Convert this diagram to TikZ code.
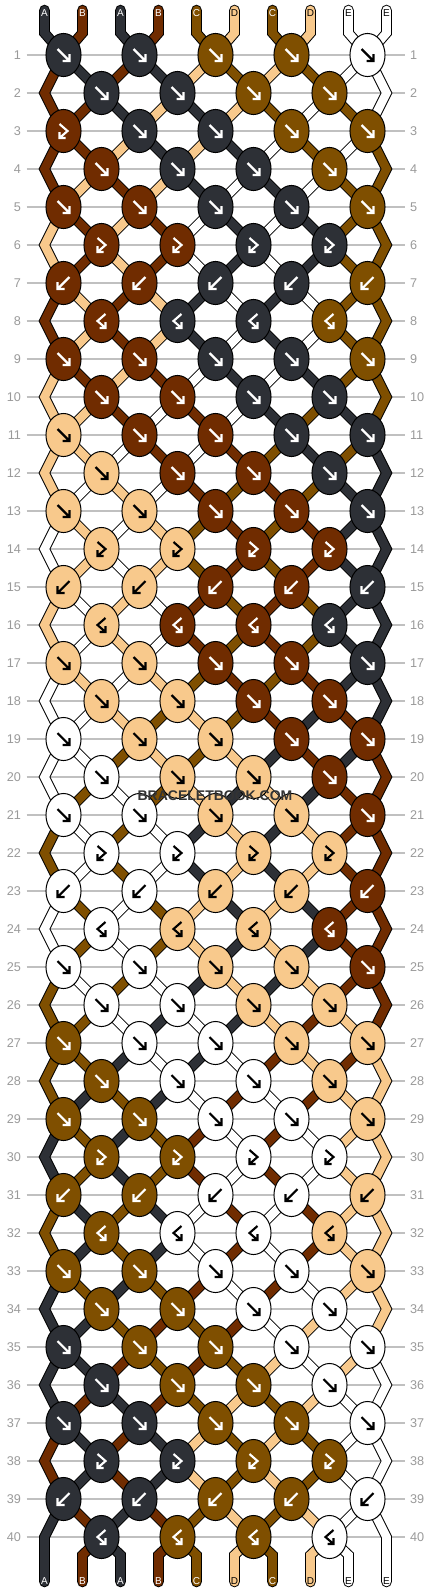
\documentclass[tikz,border=0pt]{standalone}
\usepackage{fontspec}
\setmainfont{Liberation Sans}
\usetikzlibrary{shapes.geometric,backgrounds}

\definecolor{str1}{HTML}{2D3036}
\definecolor{str2}{HTML}{702C00}
\definecolor{str3}{HTML}{7F4F00}
\definecolor{str4}{HTML}{F8C98C}
\definecolor{str5}{HTML}{FFFFFF}
\colorlet{ink1}{white}
\colorlet{ink2}{white}
\colorlet{ink3}{white}
\colorlet{ink4}{black}
\colorlet{ink5}{black}
\definecolor{gridgray}{HTML}{C0C0C0}
\definecolor{numgray}{HTML}{9A9A9A}
\definecolor{markgray}{HTML}{333333}

\tikzset{
  knot/.style={ellipse,draw=black,line width=0.75pt,minimum width=26.3pt,minimum height=32.3pt,inner sep=0pt},
  thread/.style={double=#1,double distance=6.4pt,line width=0.75pt},
  tube/.style={thread=#1,line cap=round},
  glyph/.style={draw=#1,line width=1.6pt},
  rownum/.style={text=numgray,inner sep=4pt,font=\fontsize{9.5}{11}\selectfont},
  rowline/.style={draw=gridgray,line width=0.9pt},
  endlabel/.style={inner sep=0pt,font=\fontsize{7.5}{9}\selectfont},
  watermark/.style={text=markgray,inner sep=0pt,font=\bfseries\fontsize{10.5}{12}\selectfont}
}

% row / threads before the row (1=A ... 5=E) / knots (0 f, 1 b, 2 fb, 3 bf)
\def\rows{%
1/{1,2,1,2,3,4,3,4,5,5}/{0,0,0,0,0},
2/{2,1,2,1,4,3,4,3,5,5}/{0,0,0,0},
3/{2,2,1,4,1,4,3,5,3,5}/{2,0,0,0,0},
4/{2,2,4,1,4,1,5,3,5,3}/{0,0,0,0},
5/{2,4,2,4,1,5,1,5,3,3}/{0,0,0,0,0},
6/{4,2,4,2,5,1,5,1,3,3}/{2,2,2,2},
7/{4,2,4,2,5,1,5,1,3,3}/{1,1,1,1,1},
8/{2,4,2,4,1,5,1,5,3,3}/{3,3,3,3},
9/{2,4,2,4,1,5,1,5,3,3}/{0,0,0,0,0},
10/{4,2,4,2,5,1,5,1,3,3}/{0,0,0,0},
11/{4,4,2,5,2,5,1,3,1,3}/{0,0,0,0,0},
12/{4,4,5,2,5,2,3,1,3,1}/{0,0,0,0},
13/{4,5,4,5,2,3,2,3,1,1}/{0,0,0,0,0},
14/{5,4,5,4,3,2,3,2,1,1}/{2,2,2,2},
15/{5,4,5,4,3,2,3,2,1,1}/{1,1,1,1,1},
16/{4,5,4,5,2,3,2,3,1,1}/{3,3,3,3},
17/{4,5,4,5,2,3,2,3,1,1}/{0,0,0,0,0},
18/{5,4,5,4,3,2,3,2,1,1}/{0,0,0,0},
19/{5,5,4,3,4,3,2,1,2,1}/{0,0,0,0,0},
20/{5,5,3,4,3,4,1,2,1,2}/{0,0,0,0},
21/{5,3,5,3,4,1,4,1,2,2}/{0,0,0,0,0},
22/{3,5,3,5,1,4,1,4,2,2}/{2,2,2,2},
23/{3,5,3,5,1,4,1,4,2,2}/{1,1,1,1,1},
24/{5,3,5,3,4,1,4,1,2,2}/{3,3,3,3},
25/{5,3,5,3,4,1,4,1,2,2}/{0,0,0,0,0},
26/{3,5,3,5,1,4,1,4,2,2}/{0,0,0,0},
27/{3,3,5,1,5,1,4,2,4,2}/{0,0,0,0,0},
28/{3,3,1,5,1,5,2,4,2,4}/{0,0,0,0},
29/{3,1,3,1,5,2,5,2,4,4}/{0,0,0,0,0},
30/{1,3,1,3,2,5,2,5,4,4}/{2,2,2,2},
31/{1,3,1,3,2,5,2,5,4,4}/{1,1,1,1,1},
32/{3,1,3,1,5,2,5,2,4,4}/{3,3,3,3},
33/{3,1,3,1,5,2,5,2,4,4}/{0,0,0,0,0},
34/{1,3,1,3,2,5,2,5,4,4}/{0,0,0,0},
35/{1,1,3,2,3,2,5,4,5,4}/{0,0,0,0,0},
36/{1,1,2,3,2,3,4,5,4,5}/{0,0,0,0},
37/{1,2,1,2,3,4,3,4,5,5}/{0,0,0,0,0},
38/{2,1,2,1,4,3,4,3,5,5}/{2,2,2,2},
39/{2,1,2,1,4,3,4,3,5,5}/{1,1,1,1,1},
40/{1,2,1,2,3,4,3,4,5,5}/{3,3,3,3}}

\begin{document}
\begin{tikzpicture}[x=0.75pt,y=0.75pt,yscale=-1]
\useasboundingbox (0,0) rectangle (430,1592);

% Knots
\foreach \rw/\strs/\ty in \rows {
  \foreach \cl [count=\ps from 0] in \strs {\expandafter\xdef\csname st\ps\endcsname{\cl}}
  \pgfmathsetmacro\yy{55+38*(\rw-1)}
  \ifodd\rw \def\xo{63.5}\def\po{0}\else \def\xo{101.5}\def\po{1}\fi
  \foreach \kt [count=\kn from 0] in \ty {
    \pgfmathsetmacro\xx{\xo+76*\kn}
    \pgfmathtruncatemacro\pa{\po+2*\kn}
    \pgfmathtruncatemacro\pb{\pa+1}
    \ifodd\kt \edef\kc{\csname st\pb\endcsname}\else \edef\kc{\csname st\pa\endcsname}\fi
    \node[knot,fill=str\kc,alias=s\rw-\pa,alias=s\rw-\pb] (k\rw-\kn) at (\xx,\yy) {};
    \ifcase\kt
      \draw[glyph=ink\kc] ({\xx-6},{\yy-6}) -- ++(12,12) ++(-7,0) -- ++(7,0) -- ++(0,-7);
    \or
      \draw[glyph=ink\kc] ({\xx+6},{\yy-6}) -- ++(-12,12) ++(7,0) -- ++(-7,0) -- ++(0,-7);
    \or
      \draw[glyph=ink\kc] ({\xx-4},{\yy-7}) -- ++(8,7) -- ++(-8,7) ++(0,-6) -- ++(0,6) -- ++(6,0);
    \or
      \draw[glyph=ink\kc] ({\xx+4},{\yy-7}) -- ++(-8,7) -- ++(8,7) ++(0,-6) -- ++(0,6) -- ++(-6,0);
    \fi
  }
  \ifodd\rw \else
    \coordinate (s\rw-0) at (44.5,\yy);
    \coordinate (s\rw-9) at (386.5,\yy);
  \fi
  \node[rownum,anchor=east] (nl\rw) at (26.5,\yy) {\rw};
  \node[rownum,anchor=west] (nr\rw) at (404.5,\yy) {\rw};
}

% Thread ends
\foreach \lab/\cl [count=\ps from 0] in {A/1,B/2,A/1,B/2,C/3,D/4,C/3,D/4,E/5,E/5} {
  \pgfmathsetmacro\xx{44.5+38*\ps}
  \coordinate (t\ps) at (\xx,10);
  \coordinate (u\ps) at (\xx,33);
  \coordinate (v\ps) at (\xx,1555);
  \coordinate (w\ps) at (\xx,1582);
  \node[endlabel,text=ink\cl] (lt\ps) at (\xx,13) {\lab};
  \node[endlabel,text=ink\cl] (lb\ps) at (\xx,1581) {\lab};
}

\node[watermark] (brand) at (215,796) {BRACELETBOOK.COM};

\begin{scope}[on background layer]
\fill[white] (0,0) rectangle (430,1592);
\foreach \rw in {1,...,40} \draw[rowline] (nl\rw.east) -- (nr\rw.west);

% Threads
\foreach \rw/\strs/\ty [evaluate=\rw as \rp using int(\rw-1), evaluate=\rw as \rn using int(\rw+1)] in \rows {
  \foreach \cl [count=\ps from 0] in \strs {
    \ifnum\rw=1
      \draw[tube=str\cl] (t\ps) -- (u\ps) -- (s1-\ps.center);
    \else
      \ifnum\ps=0 \def\edge{1}\else\ifnum\ps=9 \def\edge{1}\else\def\edge{0}\fi\fi
      \ifnum\edge=0
        \draw[thread=str\cl] (s\rp-\ps.center) -- (s\rw-\ps.center);
      \else
        \ifodd\rw \else
          \ifnum\rw=40
            \draw[tube=str\cl] (s\rp-\ps.center) -- (s\rw-\ps) -- (w\ps);
          \else
            \draw[thread=str\cl] (s\rp-\ps.center) -- (s\rw-\ps) -- (s\rn-\ps.center);
          \fi
        \fi
      \fi
    \fi
  }
}
\foreach \cl [count=\ps from 0] in {1,2,1,2,3,4,3,4,5,5} {
  \ifnum\ps>0 \ifnum\ps<9
    \draw[tube=str\cl] (s40-\ps.center) -- (v\ps) -- (w\ps);
  \fi\fi
}
\end{scope}

\end{tikzpicture}
\end{document}
